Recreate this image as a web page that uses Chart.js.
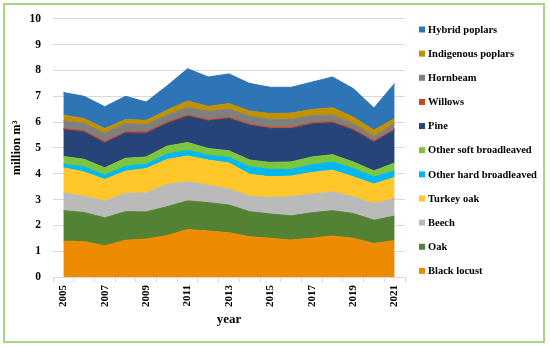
<!DOCTYPE html>
<html>
<head>
<meta charset="utf-8">
<script src="https://cdn.jsdelivr.net/npm/chart.js@4.4.1/dist/chart.umd.min.js"></script>
<style>
  html, body { margin: 0; padding: 0; background: #fff; }
  #wrap { position: relative; width: 550px; height: 347px; }
  #frame { position: absolute; left: 3px; top: 3px; width: 542px; height: 340px;
           box-sizing: border-box; border: 2px solid #a6d785; pointer-events: none; }
</style>
</head>
<body>
<div id="wrap">
  <canvas id="chart" width="550" height="347"></canvas>
  <div id="frame"></div>
</div>
<script>
// years on the x axis
const years = ["2005","2006","2007","2008","2009","2010","2011","2012","2013","2014","2015","2016","2017","2018","2019","2020","2021"];

// million m3 per species (bottom to top)
const blackLocust   = [1.39,1.37,1.21,1.42,1.47,1.60,1.84,1.78,1.71,1.56,1.50,1.43,1.50,1.59,1.50,1.30,1.41];
const oak           = [1.18,1.13,1.08,1.11,1.05,1.12,1.11,1.10,1.08,0.97,0.94,0.94,0.99,0.98,0.96,0.90,0.95];
const beech         = [0.69,0.63,0.65,0.71,0.74,0.86,0.74,0.68,0.62,0.60,0.64,0.74,0.72,0.73,0.65,0.65,0.68];
const turkeyOak     = [0.97,0.94,0.84,0.86,0.94,0.97,1.00,0.97,1.01,0.85,0.80,0.80,0.84,0.84,0.77,0.75,0.82];
const otherHard     = [0.14,0.20,0.17,0.19,0.17,0.21,0.22,0.19,0.21,0.29,0.29,0.26,0.30,0.32,0.32,0.28,0.25];
const otherSoft     = [0.30,0.29,0.28,0.31,0.28,0.31,0.30,0.26,0.26,0.26,0.27,0.29,0.30,0.28,0.26,0.23,0.31];
const pine          = [1.04,1.06,0.97,0.98,0.92,0.88,1.02,1.07,1.25,1.35,1.31,1.29,1.28,1.23,1.23,1.12,1.27];
const willows       = [0.05,0.05,0.05,0.05,0.05,0.05,0.05,0.05,0.05,0.05,0.05,0.05,0.05,0.05,0.05,0.05,0.05];
const hornbeam      = [0.29,0.28,0.31,0.32,0.28,0.27,0.28,0.32,0.31,0.30,0.30,0.30,0.27,0.25,0.21,0.17,0.21];
const indigPoplars  = [0.22,0.19,0.19,0.15,0.17,0.19,0.26,0.19,0.22,0.20,0.23,0.25,0.24,0.29,0.25,0.24,0.19];
const hybridPoplars = [0.88,0.86,0.85,0.90,0.71,0.94,1.25,1.14,1.15,1.07,1.02,1.00,1.06,1.19,1.10,0.86,1.36];

const yTicks = [0,1,2,3,4,5,6,7,8,9,10];

const series = [
  { label: "Black locust", data: blackLocust, color: "#ed8b00" },
  { label: "Oak", data: oak, color: "#548235" },
  { label: "Beech", data: beech, color: "#bababa" },
  { label: "Turkey oak", data: turkeyOak, color: "#ffc729" },
  { label: "Other hard broadleaved", data: otherHard, color: "#00b8f0" },
  { label: "Other soft broadleaved", data: otherSoft, color: "#7cc63e" },
  { label: "Pine", data: pine, color: "#264478" },
  { label: "Willows", data: willows, color: "#d2461e" },
  { label: "Hornbeam", data: hornbeam, color: "#7f7f7f" },
  { label: "Indigenous poplars", data: indigPoplars, color: "#bf9000" },
  { label: "Hybrid poplars", data: hybridPoplars, color: "#2e75b6" }
];

const serif = "'Liberation Serif', 'DejaVu Serif', serif";

// legend drawn by hand on the right, top item = last series
const sideLegend = {
  id: "sideLegend",
  afterDraw(chart) {
    const ctx = chart.ctx;
    ctx.save();
    ctx.font = "bold 10.5px " + serif;
    ctx.textBaseline = "middle";
    const items = chart.data.datasets.slice().reverse();
    items.forEach((ds, i) => {
      const y = 29.5 + i * 24.14;
      ctx.fillStyle = ds.backgroundColor;
      ctx.fillRect(419, y - 3, 6, 6);
      ctx.fillStyle = "#000";
      ctx.fillText(ds.label, 428, y + 0.5);
    });
    ctx.restore();
  }
};

const ctx = document.getElementById("chart").getContext("2d");
new Chart(ctx, {
  type: "line",
  data: {
    labels: years,
    datasets: series.map((s, i) => ({
      label: s.label,
      data: s.data,
      backgroundColor: s.color,
      borderColor: s.color,
      borderWidth: 1,
      pointRadius: 0,
      tension: 0,
      fill: i === 0 ? "origin" : "-1"
    }))
  },
  options: {
    responsive: false,
    animation: false,
    layout: { padding: { top: 18, right: 145, left: 0, bottom: 0 } },
    plugins: {
      legend: { display: false },
      tooltip: { enabled: false }
    },
    scales: {
      x: {
        offset: true,
        grid: { offset: true, drawOnChartArea: false, color: "#d9d9d9", tickLength: 5 },
        border: { color: "#d9d9d9" },
        ticks: {
          autoSkip: false,
          maxRotation: 90,
          minRotation: 90,
          color: "#000",
          padding: 3,
          font: { family: serif, size: 11, weight: "bold" },
          callback: (v, i) => (i % 2 === 0 ? years[i] : "")
        },
        title: {
          display: true,
          text: "year",
          color: "#000",
          padding: { top: 4, bottom: 20 },
          font: { family: serif, size: 13, weight: "bold" }
        },
        afterFit: s => { s.height = 70; }
      },
      y: {
        stacked: true,
        min: 0,
        max: 10,
        afterBuildTicks: s => { s.ticks = yTicks.map(v => ({ value: v })); },
        grid: { color: "#d9d9d9", drawTicks: false },
        border: { display: false },
        ticks: {
          color: "#000",
          padding: 12,
          font: { family: serif, size: 11.5, weight: "bold" }
        },
        title: {
          display: true,
          text: "million m³",
          color: "#000",
          padding: { top: 9, bottom: 0 },
          font: { family: serif, size: 12.5, weight: "bold" }
        },
        afterFit: s => { s.width = 53; }
      }
    }
  },
  plugins: [sideLegend]
});
</script>
</body>
</html>
